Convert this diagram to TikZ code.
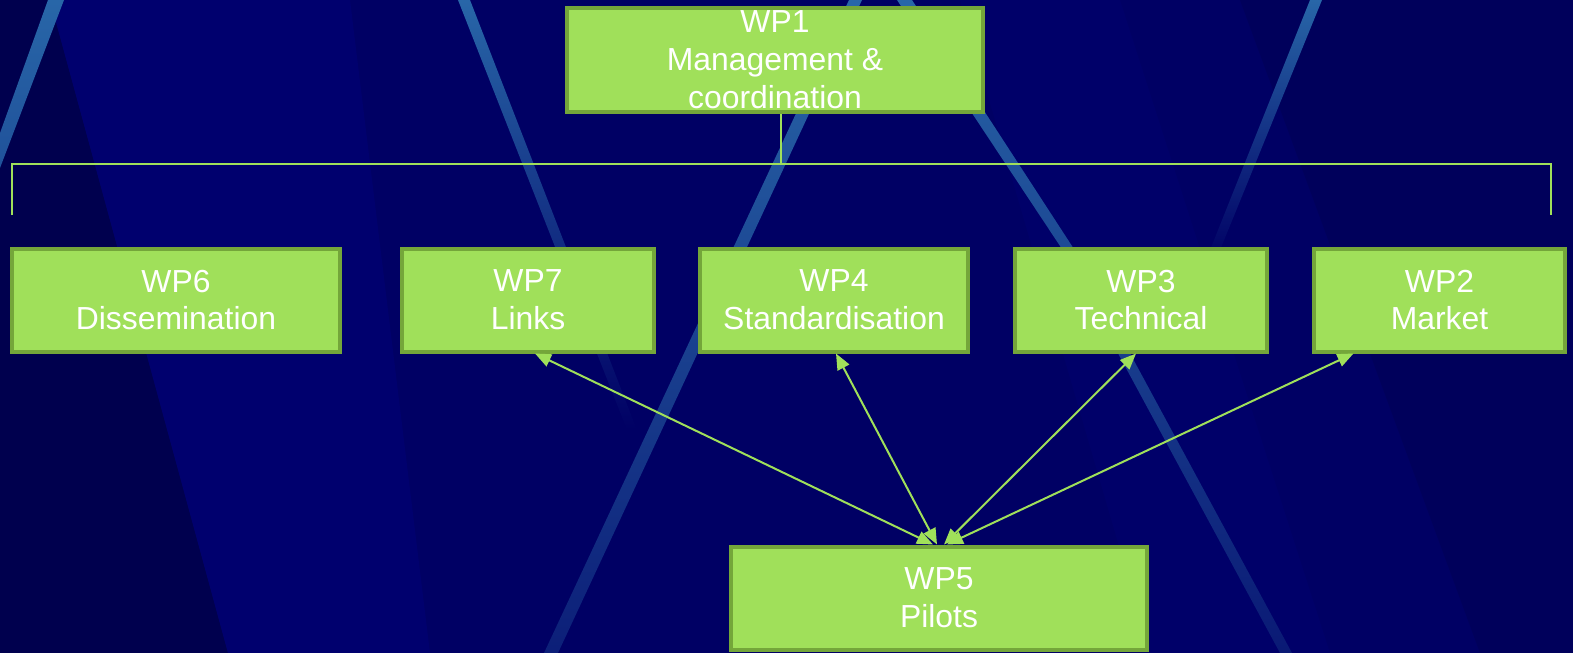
\documentclass[tikz,border=0pt]{standalone}
\usepackage{fontspec}
\setmainfont{Liberation Sans}
\usepackage{tikz}
\usetikzlibrary{arrows.meta}

\definecolor{bgnavy}{RGB}{0,0,100}
\definecolor{bgdark}{RGB}{0,0,78}
\definecolor{bglight}{RGB}{0,0,110}
\definecolor{stripe}{RGB}{40,102,168}
\definecolor{wpfill}{RGB}{160,224,90}
\definecolor{wpline}{RGB}{116,166,58}

\begin{document}
\begin{tikzpicture}[x=1bp,y=-1bp,
  wp/.style={rectangle,draw=wpline,line width=4bp,fill=wpfill,text=white,
    align=center,inner sep=0pt,minimum height=103bp,font=\fontsize{32}{38}\selectfont},
  tree/.style={draw=wpfill,line width=2bp},
  link/.style={draw=wpfill,line width=2bp,{Triangle[length=16bp,width=13bp]}-{Triangle[length=16bp,width=13bp]}}]
\useasboundingbox (0,0) rectangle (1573,653);
\fill[bgnavy] (0,0) rectangle (1573,653);
\fill[bgdark] (0,0) -- (50,0) -- (228,653) -- (0,653) -- cycle;
\fill[bglight] (50,0) -- (350,0) -- (430,653) -- (228,653) -- cycle;
\fill[bgdark,opacity=.4] (1240,0) -- (1573,0) -- (1573,653) -- (1480,653) -- cycle;
\fill[bglight,opacity=.5] (960,0) -- (1120,0) -- (1330,653) -- (1150,653) -- cycle;
\shade[top color=stripe,bottom color=stripe!80!bgnavy] (48,0) -- (64,0) -- (0,168) -- (0,133) -- cycle;
\shade[top color=stripe,bottom color=bgnavy] (458,0) -- (470,0) -- (637,430) -- (627,430) -- cycle;
\shade[top color=stripe,bottom color=stripe!30!bgnavy] (849,0) -- (862,0) -- (558,653) -- (544,653) -- cycle;
\shade[top color=stripe,bottom color=stripe!25!bgnavy] (897,0) -- (912,0) -- (1072,246) -- (1292,653) -- (1280,653) -- (1060,246) -- cycle;
\shade[top color=stripe,bottom color=bgnavy] (1310,0) -- (1322,0) -- (1216,260) -- (1206,260) -- cycle;

\node[wp,minimum width=416bp] (wp1) at (775,60) {WP1\\Management \&\\coordination};
\node[wp,minimum width=328bp] (wp6) at (176,300) {WP6\\Dissemination};
\node[wp,minimum width=252bp] (wp7) at (528,300) {WP7\\Links};
\node[wp,minimum width=268bp] (wp4) at (834,300) {WP4\\Standardisation};
\node[wp,minimum width=252bp] (wp3) at (1141,300) {WP3\\Technical};
\node[wp,minimum width=251bp] (wp2) at (1439.5,300) {WP2\\Market};
\node[wp,minimum width=416bp] (wp5) at (939,598) {WP5\\Pilots};

\coordinate (hub) at (781,164);
\coordinate (busL) at (12,215);
\coordinate (busR) at (1551,215);
\draw[tree] (hub |- wp1.south) -- (hub);
\draw[tree] (busL) |- (hub) -| (busR);

\draw[link] ([xshift=-6bp]wp5.north) -- ([xshift=7bp]wp7.south);
\draw[link] ([xshift=-2bp]wp5.north) -- ([xshift=2bp]wp4.south);
\draw[link] ([xshift=5bp]wp5.north) -- ([xshift=-5bp]wp3.south);
\draw[link] ([xshift=8bp]wp5.north) -- ([xshift=-86bp]wp2.south);
\end{tikzpicture}
\end{document}
